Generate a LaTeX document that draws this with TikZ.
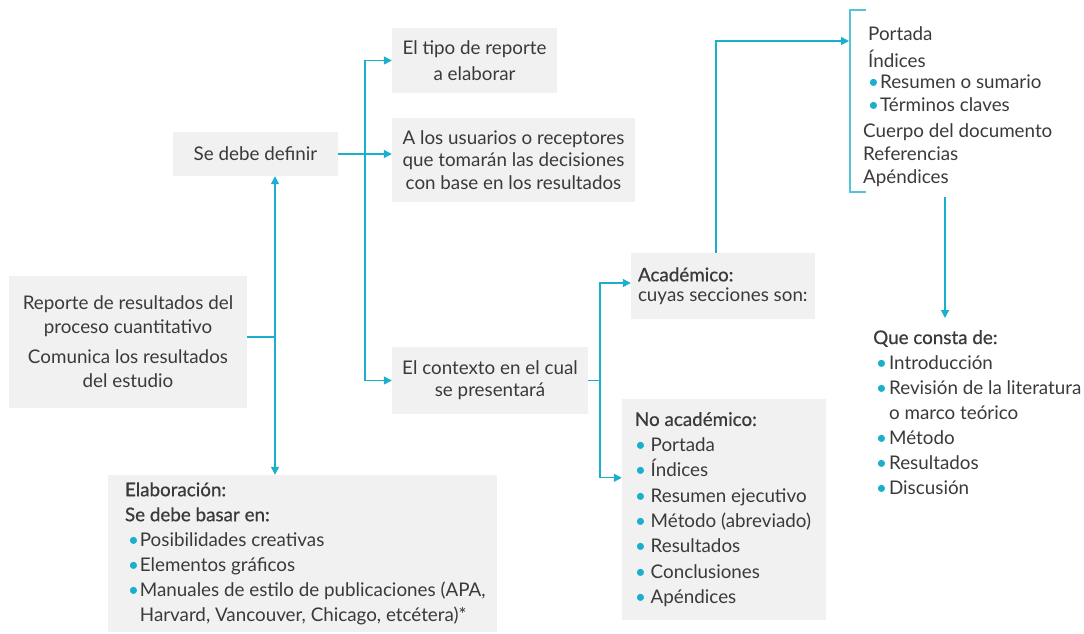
\documentclass[tikz,border=0pt]{standalone}
\usepackage{fontspec}
\setmainfont{Lato}
\newfontfamily\semib[FakeBold=0.6]{Lato}
\usetikzlibrary{arrows.meta,calc}
\definecolor{cy}{RGB}{26,175,204}
\definecolor{tx}{RGB}{58,58,58}
\definecolor{bx}{RGB}{241,241,241}
\newcommand\bul{{\color{cy}\textbullet}}
\begin{document}
\begin{tikzpicture}[x=1pt,y=-1pt,
  font=\fontsize{18.8}{22}\selectfont, text=tx,
  box/.style={fill=bx, inner sep=0pt, align=center},
  ln/.style={draw=cy, line width=1.3pt},
  arr/.style={ln, -{Triangle[length=8pt,width=8pt]}},
  both/.style={ln, {Triangle[length=8pt,width=8pt]}-{Triangle[length=8pt,width=8pt]}},
  plain/.style={anchor=north west, inner sep=0pt, align=left},
  intext/.style={anchor=west, inner sep=0pt, align=left}]
\useasboundingbox (0,0) rectangle (1084,634);

% boxes
\node[box, minimum width=238pt, minimum height=132pt, font=\fontsize{18.8}{24}\selectfont] (rep) at (128,342)
  {Reporte de resultados del\\proceso cuantitativo\\[6pt]Comunica los resultados\\del estudio};
\node[box, minimum width=165pt, minimum height=44pt] (def) at (255.5,154) {Se debe definir};
\node[box, minimum width=165pt, minimum height=65pt, font=\fontsize{18.8}{26}\selectfont] (tipo) at (474.5,60.5)
  {El tipo de reporte\\a elaborar};
\node[box, minimum width=243pt, minimum height=84pt, font=\fontsize{18.8}{22.5}\selectfont] (usu) at (513.5,160)
  {A los usuarios o receptores\\que tomarán las decisiones\\con base en los resultados};
\node[box, minimum width=196pt, minimum height=67pt] (ctx) at (490,380.5)
  {El contexto en el cual\\se presentará};

\node[box, minimum width=184pt, minimum height=66pt] (acad) at (723,286) {};
\node[intext, font=\fontsize{18.8}{20}\selectfont] (acadt) at ([xshift=7pt]acad.west)
  {{\semib Académico:}\\cuyas secciones son:};

\node[box, minimum width=204pt, minimum height=221pt] (nacad) at (724,509.5) {};
\node[intext, font=\fontsize{18.8}{25.4}\selectfont] (nacadt) at ([xshift=13pt]nacad.west)
  {{\semib No académico:}\\
   \bul\ Portada\\
   \bul\ Índices\\
   \bul\ Resumen ejecutivo\\
   \bul\ Método (abreviado)\\
   \bul\ Resultados\\
   \bul\ Conclusiones\\
   \bul\ Apéndices};

\node[box, minimum width=389pt, minimum height=157pt] (elab) at (302.5,553.5) {};
\node[intext, font=\fontsize{18.8}{25}\selectfont] (elabt) at ([xshift=17pt]elab.west)
  {{\semib Elaboración:}\\
   {\semib Se debe basar en:}\\
   \hspace*{3pt}\bul\hspace{1pt}Posibilidades creativas\\
   \hspace*{3pt}\bul\hspace{1pt}Elementos gráficos\\
   \hspace*{3pt}\bul\hspace{1pt}Manuales de estilo de publicaciones (APA,\\
   \hspace*{3pt}\phantom{\bul}\hspace*{1pt}Harvard, Vancouver, Chicago, etcétera)*};

% right lists
\node[plain] (brl) at (863,26)
  {\hspace*{5pt}Portada\\[5pt]
   \hspace*{5pt}Índices\\[-1pt]
   \hspace*{5pt}\bul\hspace{1pt}Resumen o sumario\\[1pt]
   \hspace*{5pt}\bul\hspace{1pt}Términos claves\\[4pt]
   Cuerpo del documento\\[1pt]
   Referencias\\[1pt]
   Apéndices};
\node[plain, font=\fontsize{18.8}{25}\selectfont] (que) at (873,330)
  {{\semib Que consta de:}\\
   \hspace*{3pt}\bul\hspace{2pt}Introducción\\
   \hspace*{3pt}\bul\hspace{2pt}Revisión de la literatura\\
   \hspace*{3pt}\phantom{\bul}\hspace*{2pt}o marco teórico\\
   \hspace*{3pt}\bul\hspace{2pt}Método\\
   \hspace*{3pt}\bul\hspace{2pt}Resultados\\
   \hspace*{3pt}\bul\hspace{2pt}Discusión};

% bracket
\draw[ln, draw=cy!75, line width=1.2pt] (866,10) -- (850,10) -- (850,192) -- (866,192);

% connectors
\coordinate (j1) at (275,337);
\coordinate (j2) at (365,155);
\coordinate (j3) at (600,380.5);
\coordinate (brk) at (849,41);
\coordinate (bb) at (945,197);

\draw[ln] (rep.east |- j1) -- (j1);
\draw[arr] (j1) -- (j1 |- def.south);
\draw[arr] (j1) -- (j1 |- elab.north);
\draw[arr] (def.east) -- (usu.west |- def.east);
\draw[both] (tipo.west) -| (j2) |- (ctx.west);
\draw[ln] (ctx.east) -- (j3);
\draw[both] ([yshift=3pt]acad.west) -| (j3) |- ([yshift=-79pt]nacad.north west);
\draw[arr] ([xshift=-7pt]acad.north) |- (brk);
\draw[arr, shorten >=12pt] (bb) -- (bb |- que.north);
\end{tikzpicture}
\end{document}
